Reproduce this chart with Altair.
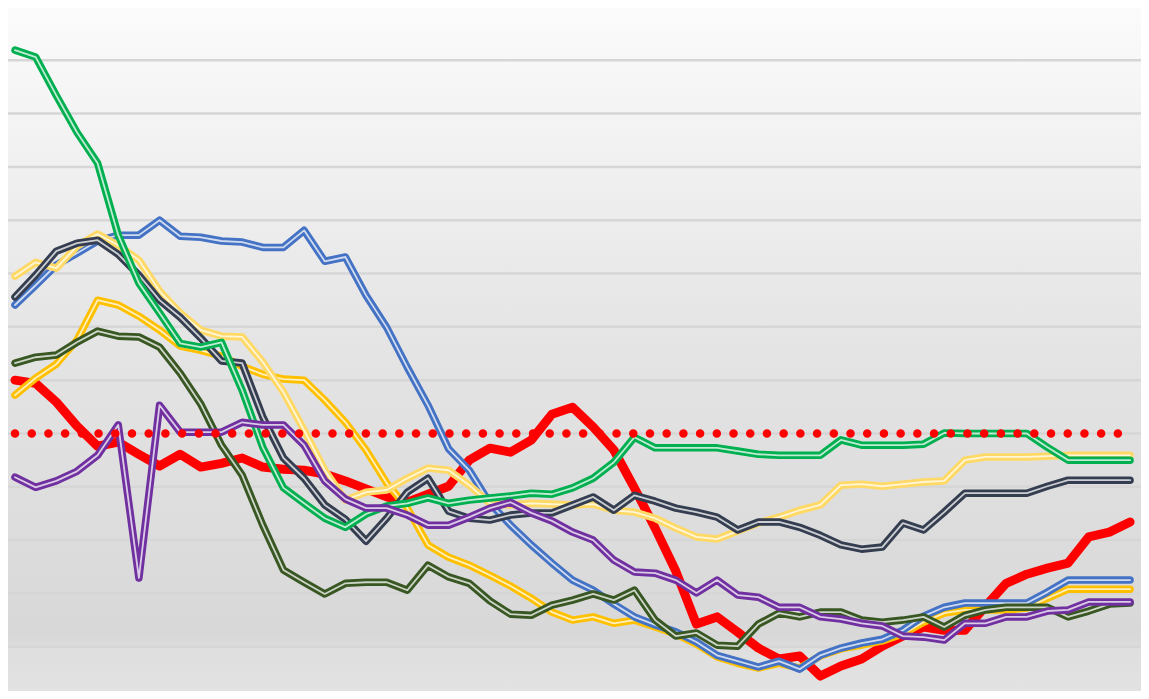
import altair as alt
import pandas as pd

# x positions: 55 periods
periods = list(range(55))

green = [121.9, 120.6, 113.4, 106.5, 100.7, 87.2, 78.2, 72.6, 66.9, 66.2, 67.1, 58.1, 47.4, 39.8, 36.9,
         34.1, 32.4, 34.9, 36.4, 36.9, 37.9, 36.9, 37.5, 37.9, 38.3, 38.8, 38.6, 39.8, 41.6, 44.6,
         49.3, 47.3, 47.3, 47.3, 47.3, 46.7, 46.1, 45.9, 45.9, 45.9, 48.8, 47.8, 47.8, 47.8, 48.0,
         50.1, 50.0, 50.0, 50.0, 50.0, 47.4, 45.0, 45.0, 45.0, 45.0]

blue = [74.1, 77.8, 81.6, 83.8, 86.1, 87.2, 87.2, 90.0, 87.0, 86.8, 86.1, 85.9, 84.9, 84.9, 88.1,
        82.3, 83.1, 75.9, 69.9, 62.4, 55.3, 47.1, 43.1, 36.9, 32.8, 29.1, 25.7, 22.5, 20.6, 18.0,
        15.6, 14.1, 12.8, 10.9, 8.4, 7.3, 6.2, 7.3, 5.8, 8.4, 9.75, 10.7, 11.4, 13.1, 15.75,
        17.4, 18.2, 18.2, 18.2, 18.2, 20.25, 22.5, 22.5, 22.5, 22.5]

navy = [75.6, 79.7, 84.2, 85.7, 86.25, 83.6, 79.7, 75.0, 71.8, 67.9, 63.6, 63.2, 53.1, 45.4, 41.6,
        36.6, 33.9, 29.8, 34.1, 39.0, 41.6, 35.4, 34.1, 33.75, 34.7, 35.1, 35.1, 36.6, 38.1, 35.6,
        38.4, 37.3, 36.0, 35.25, 34.3, 31.9, 33.4, 33.4, 32.4, 30.9, 29.1, 28.3, 28.7, 33.2, 31.9,
        35.25, 38.8, 38.8, 38.8, 38.8, 40.1, 41.25, 41.25, 41.25, 41.25]

light_yellow = [79.5, 82.1, 81.0, 85.1, 87.4, 85.3, 82.5, 76.7, 72.6, 69.4, 68.25, 68.1, 63.4, 57.75, 50.6,
                43.1, 37.5, 39.0, 39.4, 41.6, 43.5, 43.1, 40.3, 36.9, 36.6, 36.9, 36.75, 36.6, 36.75, 35.6,
                35.25, 34.1, 32.25, 30.6, 30.2, 31.7, 33.2, 34.3, 35.6, 36.6, 40.3, 40.5, 40.1, 40.5, 40.9,
                41.1, 45.0, 45.6, 45.6, 45.6, 45.75, 45.9, 45.9, 45.9, 45.9]

gold = [57.2, 60.4, 63.0, 67.5, 75.0, 74.1, 72.0, 69.4, 66.4, 65.6, 64.5, 62.6, 61.1, 60.2, 60.0,
        56.25, 52.1, 46.9, 40.7, 36.0, 29.1, 26.8, 25.3, 23.4, 21.4, 19.1, 16.5, 15.0, 15.6, 14.4,
        15.0, 13.7, 12.4, 10.5, 8.1, 6.9, 6.0, 6.9, 6.0, 8.25, 9.6, 10.3, 11.1, 12.4, 14.6,
        16.3, 16.9, 16.9, 16.9, 17.25, 19.1, 20.8, 20.8, 20.8, 20.8]

olive = [63.2, 64.3, 64.7, 67.1, 69.2, 68.25, 68.1, 66.2, 61.3, 55.5, 47.8, 42.2, 32.8, 24.4, 22.1,
         19.9, 21.9, 22.1, 22.1, 20.6, 25.3, 23.1, 21.9, 18.6, 16.1, 15.9, 17.8, 18.75, 19.9, 18.75,
         20.6, 15.0, 12.0, 12.6, 10.3, 10.1, 14.25, 16.3, 15.6, 16.5, 16.5, 15.0, 14.6, 15.0, 15.6,
         13.7, 15.9, 16.9, 17.4, 17.4, 17.4, 15.6, 16.7, 18.0, 18.2]

purple = [41.8, 39.9, 41.1, 42.9, 45.9, 51.6, 22.9, 55.3, 50.25, 50.25, 50.25, 52.1, 51.6, 51.6, 47.8,
          41.1, 37.7, 36.0, 36.0, 34.7, 32.8, 32.8, 34.3, 36.0, 37.1, 35.1, 33.6, 31.5, 30.0, 26.25,
          24.0, 23.8, 22.5, 20.1, 22.5, 19.7, 19.3, 17.4, 17.4, 15.6, 15.2, 14.4, 13.9, 12.0, 11.8,
          11.25, 14.4, 14.4, 15.6, 15.6, 16.7, 16.9, 18.4, 18.4, 18.4]

red = [60.0, 59.4, 55.9, 51.4, 47.6, 48.4, 46.1, 43.9, 46.1, 43.7, 44.4, 45.4, 43.7, 43.3, 43.1,
       42.4, 41.1, 39.6, 38.1, 37.1, 38.6, 40.1, 45.0, 47.25, 46.5, 48.75, 53.6, 54.9, 51.2, 46.9,
       39.75, 32.25, 24.2, 14.25, 15.6, 12.75, 9.75, 7.7, 8.25, 4.5, 6.4, 7.7, 10.1, 12.0, 13.7,
       13.1, 13.1, 17.6, 21.9, 23.6, 24.75, 25.7, 30.6, 31.5, 33.4]

target = [50.0] * 55

grid_values = [10, 20, 30, 40, 50, 60, 70, 80, 90, 100, 110, 120]

# drawing order (bottom -> top) and colours of the double-stroked series
double_series = [
    ("gold", gold, "#ffc000"),
    ("blue", blue, "#4472c4"),
    ("olive", olive, "#385723"),
    ("light_yellow", light_yellow, "#ffd966"),
    ("navy", navy, "#343e50"),
    ("green", green, "#00b050"),
    ("purple", purple, "#7030a0"),
]

W, H = 1133, 683
xscale = alt.Scale(domain=[-0.339, 54.53], nice=False, zero=False)
yscale = alt.Scale(domain=[1.7, 129.8], nice=False, zero=False)


def frame(vals):
    return pd.DataFrame({"i": periods, "v": vals})


bg = alt.Chart(pd.DataFrame({"a": [0]})).mark_rect(
    fill=alt.LinearGradient(
        gradient="linear", x1=0, y1=0, x2=0, y2=1,
        stops=[
            alt.GradientStop(offset=0, color="#fbfbfb"),
            alt.GradientStop(offset=0.5, color="#e4e4e4"),
            alt.GradientStop(offset=0.92, color="#d8d8d8"),
            alt.GradientStop(offset=0.94, color="#dfdfdf"),
            alt.GradientStop(offset=1, color="#e2e2e2"),
        ],
    )
).encode(x=alt.value(0), x2=alt.value(W), y=alt.value(0), y2=alt.value(H))

grid = alt.Chart(pd.DataFrame({"v": grid_values})).mark_rule(
    color="#d6d6d6", strokeWidth=2.5
).encode(y=alt.Y("v:Q", scale=yscale, axis=None))

layers = [bg, grid]

red_line = alt.Chart(frame(red)).mark_line(
    color="#ff0000", strokeWidth=9, strokeCap="round", strokeJoin="round"
).encode(x=alt.X("i:Q", scale=xscale, axis=None), y=alt.Y("v:Q", scale=yscale, axis=None))
layers.append(red_line)

for name, vals, col in double_series:
    base = alt.Chart(frame(vals)).encode(
        x=alt.X("i:Q", scale=xscale, axis=None),
        y=alt.Y("v:Q", scale=yscale, axis=None),
    )
    layers.append(base.mark_line(color=col, strokeWidth=7.5, strokeCap="round", strokeJoin="round"))
    layers.append(base.mark_line(color="#ffffff", strokeWidth=1.8, opacity=0.75,
                                 strokeCap="round", strokeJoin="round"))

dots = alt.Chart(frame(target)).mark_line(
    color="#ff0000", strokeWidth=8.5, strokeCap="round", strokeDash=[0.01, 16.7]
).encode(x=alt.X("i:Q", scale=xscale, axis=None), y=alt.Y("v:Q", scale=yscale, axis=None))
layers.append(dots)

chart = alt.layer(*layers).properties(
    width=W, height=H, padding=0,
    autosize=alt.AutoSizeParams(type="none"),
    background="#dce6f2",
).configure_view(stroke=None)

chart.save("out.html", embed_options={"renderer": "svg", "actions": False})
